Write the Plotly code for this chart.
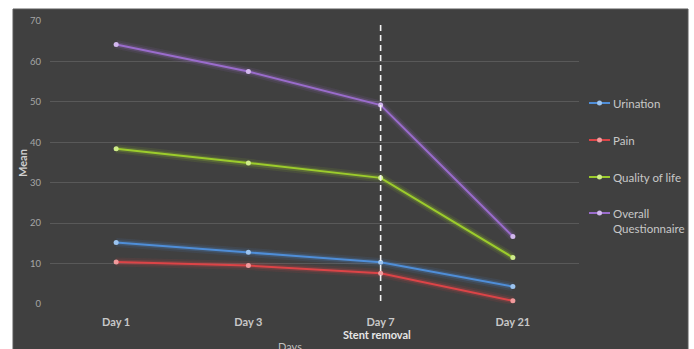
import plotly.graph_objects as go

# Mean scores by follow-up day
days = ["Day 1", "Day 3", "Day 7", "Day 21"]
urination = [15.2, 12.8, 10.3, 4.3]
pain = [10.4, 9.5, 7.6, 0.8]
quality_of_life = [38.4, 34.9, 31.2, 11.5]
overall = [64.2, 57.5, 49.2, 16.7]
y_ticks = [0, 10, 20, 30, 40, 50, 60, 70]
stent_day = "Day 7"

series = [
    ("Urination", urination, "#4f8ed8", "#9cc4f0", "79,142,216"),
    ("Pain", pain, "#dc4447", "#f09a9c", "220,68,71"),
    ("Quality of life", quality_of_life, "#9ccc2c", "#cfec8a", "156,204,44"),
    ("Overall<br>Questionnaire", overall, "#9a6ccc", "#d2b8ee", "154,108,204"),
]

W, H = 694, 349
L, R, T, B = 50, 115, 21, 45
pw, ph = W - L - R, H - T - B


def px_x(px):
    return (px - L) / pw


def px_y(py):
    return (H - B - py) / ph


fig = go.Figure()

# soft glow under each line
for name, vals, col, mcol, rgb in series:
    for w, a in [(9, 0.10), (5, 0.22)]:
        fig.add_trace(go.Scatter(
            x=days, y=vals, mode="lines",
            line=dict(color=f"rgba({rgb},{a})", width=w),
            showlegend=False, hoverinfo="skip",
        ))

for name, vals, col, mcol, rgb in series:
    fig.add_trace(go.Scatter(
        x=days, y=vals, mode="lines+markers", name=name,
        line=dict(color=col, width=2),
        marker=dict(color=mcol, size=5, line=dict(width=0)),
        showlegend=False,
    ))

# dark chart background panel
fig.add_shape(type="rect", xref="paper", yref="paper",
              x0=px_x(13), x1=px_x(688), y0=px_y(400), y1=px_y(9),
              fillcolor="#404040", line=dict(color="#5a5a5a", width=1),
              layer="below")

# stent removal marker
fig.add_shape(type="line", xref="x", yref="paper",
              x0=days.index(stent_day), x1=days.index(stent_day),
              y0=px_y(301), y1=1.0,
              line=dict(color="#f2f2f2", width=1.6, dash="6px,4px"))

font = "Lato, 'Noto Sans', sans-serif"

# legend drawn on the right-hand side of the panel
legend_rows = [103, 140, 177, 213]
for (name, vals, col, mcol, rgb), row in zip(series, legend_rows):
    fig.add_shape(type="line", xref="paper", yref="paper",
                  x0=px_x(589), x1=px_x(610), y0=px_y(row), y1=px_y(row),
                  line=dict(color=col, width=2))
    fig.add_shape(type="circle", xref="paper", yref="paper",
                  xsizemode="pixel", ysizemode="pixel",
                  xanchor=px_x(599.5), yanchor=px_y(row),
                  x0=-2.5, x1=2.5, y0=-2.5, y1=2.5,
                  fillcolor=mcol, line=dict(width=0))
    fig.add_annotation(text=name, xref="paper", yref="paper",
                       x=px_x(611), y=px_y(row - 8), xanchor="left",
                       yanchor="top", align="left", showarrow=False,
                       font=dict(family=font, size=11.5, color="#c8c8c8"))

fig.add_annotation(text="<b>Stent removal</b>", xref="paper", yref="paper",
                   x=px_x(377), y=px_y(334), xanchor="center",
                   yanchor="middle", showarrow=False,
                   font=dict(family=font, size=11, color="#e6e6e6"))
fig.add_annotation(text="Days", xref="paper", yref="paper",
                   x=px_x(290), y=px_y(338), xanchor="center", yanchor="top",
                   showarrow=False,
                   font=dict(family=font, size=11, color="#bfbfbf"))
fig.add_annotation(text="<b>Mean</b>", xref="paper", yref="paper",
                   x=px_x(22), y=px_y(163), xanchor="center",
                   yanchor="middle", textangle=-90, showarrow=False,
                   font=dict(family=font, size=11, color="#d0d0d0"))

fig.update_layout(
    width=W, height=H,
    margin=dict(l=L, r=R, t=T, b=B, pad=0),
    paper_bgcolor="#ffffff",
    plot_bgcolor="rgba(0,0,0,0)",
    font=dict(family=font, color="#bfbfbf"),
    showlegend=False,
    xaxis=dict(
        type="category", showgrid=False, zeroline=False, showline=False,
        ticks="", ticklabelstandoff=10,
        tickfont=dict(family=font, size=11, color="#c8c8c8", weight="bold"),
        range=[-0.5, len(days) - 0.5],
    ),
    yaxis=dict(
        range=[0, 70], tickvals=y_ticks, showgrid=True,
        gridcolor="#595959", gridwidth=1,
        zeroline=True, zerolinecolor="#404040", zerolinewidth=2,
        showline=False, ticks="", ticklabelstandoff=8,
        tickfont=dict(family=font, size=9.5, color="#a6a6a6"),
    ),
)

fig.write_html("out.html")
